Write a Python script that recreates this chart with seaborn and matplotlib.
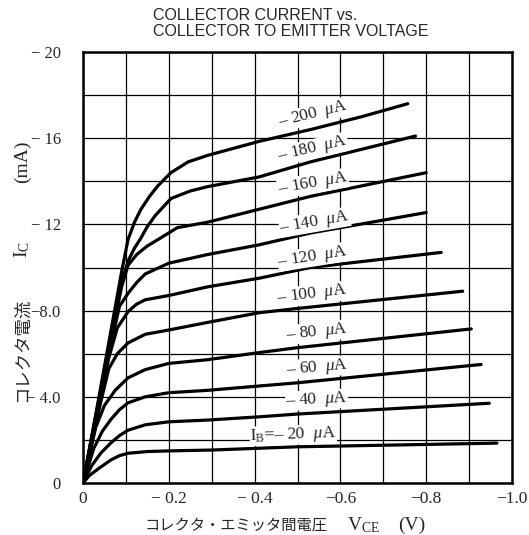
import matplotlib
matplotlib.use("Agg")
import matplotlib.pyplot as plt
import seaborn as sns
import pandas as pd
import numpy as np

# ---- data (V_CE in V, I_C in mA; negative as in the datasheet) ----
ib_labels = ["200", "180", "160", "140", "120", "100", "80", "60", "40", "20"]

v_200 = [0, 0.03, 0.06, 0.09, 0.105, 0.12, 0.135, 0.155, 0.175, 0.205, 0.245, 0.29, 0.41, 0.53, 0.65, 0.757]
i_200 = [0, 3.2, 6.5, 9.8, 11.3, 12.1, 12.7, 13.3, 13.8, 14.4, 14.9, 15.2, 15.85, 16.4, 17.0, 17.6]
v_180 = [0, 0.03, 0.06, 0.09, 0.105, 0.12, 0.133, 0.15, 0.168, 0.205, 0.25, 0.29, 0.41, 0.53, 0.775]
i_180 = [0, 3.1, 6.3, 9.3, 10.3, 10.9, 11.3, 11.9, 12.4, 13.2, 13.55, 13.75, 14.2, 14.9, 16.1]
v_160 = [0, 0.03, 0.06, 0.09, 0.105, 0.125, 0.15, 0.175, 0.22, 0.29, 0.41, 0.53, 0.80]
i_160 = [0, 3.1, 6.2, 9.1, 10.1, 10.6, 11.0, 11.3, 11.85, 12.1, 12.7, 13.3, 14.4]
v_140 = [0, 0.03, 0.06, 0.085, 0.105, 0.125, 0.145, 0.2, 0.29, 0.41, 0.53, 0.80]
i_140 = [0, 3.0, 6.0, 8.2, 8.8, 9.3, 9.7, 10.2, 10.6, 11.05, 11.6, 12.55]
v_120 = [0, 0.03, 0.06, 0.08, 0.105, 0.125, 0.145, 0.2, 0.29, 0.41, 0.53, 0.835]
i_120 = [0, 2.9, 5.8, 7.2, 7.95, 8.3, 8.5, 8.7, 9.1, 9.5, 10.0, 10.7]
v_100 = [0, 0.03, 0.06, 0.08, 0.105, 0.145, 0.2, 0.29, 0.41, 0.5, 0.885]
i_100 = [0, 2.8, 5.3, 6.0, 6.5, 6.9, 7.1, 7.45, 7.9, 8.1, 8.9]
v_80 = [0, 0.03, 0.05, 0.075, 0.105, 0.145, 0.2, 0.29, 0.41, 0.5, 0.905]
i_80 = [0, 2.6, 3.6, 4.3, 4.88, 5.26, 5.55, 5.72, 6.05, 6.28, 7.15]
v_60 = [0, 0.025, 0.045, 0.065, 0.085, 0.105, 0.145, 0.2, 0.29, 0.41, 0.5, 0.928]
i_60 = [0, 1.6, 2.4, 2.95, 3.4, 3.72, 4.0, 4.19, 4.3, 4.5, 4.65, 5.5]
v_40 = [0, 0.02, 0.042, 0.065, 0.085, 0.105, 0.145, 0.2, 0.29, 0.41, 0.5, 0.947]
i_40 = [0, 0.8, 1.4, 1.86, 2.2, 2.45, 2.7, 2.84, 2.92, 3.07, 3.2, 3.7]
v_20 = [0, 0.015, 0.035, 0.065, 0.085, 0.105, 0.15, 0.2, 0.3, 0.5, 0.965]
i_20 = [0, 0.35, 0.65, 1.07, 1.27, 1.38, 1.46, 1.49, 1.53, 1.68, 1.85]

curve_v = [v_200, v_180, v_160, v_140, v_120, v_100, v_80, v_60, v_40, v_20]
curve_i = [i_200, i_180, i_160, i_140, i_120, i_100, i_80, i_60, i_40, i_20]

# label positions (V, I) and rotation
label_v = [0.536, 0.536, 0.536, 0.54, 0.536, 0.534, 0.545, 0.545, 0.545, 0.49]
label_i = [17.1, 15.5, 13.9, 12.1, 10.5, 8.75, 7.0, 5.35, 3.86, 2.23]
label_rot = [14, 13, 10, 10, 9, 7, 6, 5, 3, 2]

x_ticks = [0, -0.2, -0.4, -0.6, -0.8, -1.0]
x_ticklabels = ["0", "\u2212 0.2", "\u2212 0.4", "\u22120.6", "\u22120.8", "\u22121.0"]
y_ticks = [0, -4, -8, -12, -16, -20]
y_ticklabels = ["0", "\u2212 4.0", "\u22128.0", "\u2212 12", "\u2212 16", "\u2212 20"]

rows = []
for lab, vs, is_ in zip(ib_labels, curve_v, curve_i):
    for v, i in zip(vs, is_):
        rows.append({"IB": lab, "VCE": -v, "IC": -i})
df = pd.DataFrame(rows)

sns.set_style("white")
plt.rcParams["mathtext.fontset"] = "custom"
plt.rcParams["mathtext.rm"] = "Liberation Serif"
plt.rcParams["mathtext.it"] = "Liberation Serif:italic"

fig = plt.figure(figsize=(5.29, 5.35), dpi=100)
ax = fig.add_axes([83 / 529, 1 - 483 / 535, 429 / 529, 431 / 535])

sns.lineplot(data=df, x="VCE", y="IC", hue="IB", units="IB", estimator=None,
             palette=["black"] * len(ib_labels), legend=False, sort=False,
             linewidth=2.3, ax=ax, zorder=3)

ax.set_xlim(0, -1.0)
ax.set_ylim(0, -20)
ax.set_xticks(x_ticks)
ax.set_xticklabels(x_ticklabels, family="Liberation Serif", fontsize=12.5)
ax.set_yticks(y_ticks)
ax.set_yticklabels(y_ticklabels, family="Liberation Serif", fontsize=12)
ax.set_xticks(np.arange(0, -1.01, -0.1), minor=True)
ax.set_yticks(np.arange(0, -20.1, -2), minor=True)
ax.grid(True, which="both", color="black", linewidth=0.9)
ax.tick_params(which="both", length=0)
ax.tick_params(axis="x", pad=6)
ax.tick_params(axis="y", pad=16)
ax.set_xlabel("")
ax.set_ylabel("")
for s in ax.spines.values():
    s.set_visible(True)
    s.set_color("black")
    s.set_linewidth(1.8)

# curve labels
for k, lab in enumerate(ib_labels):
    if lab == "20":
        txt = "I$_{\\mathregular{B}}$=\u2013 20  $\\mathit{\\mu}$A"
    else:
        txt = "\u2013 " + lab + "  $\\mathit{\\mu}$A"
    ax.text(-label_v[k], -label_i[k], txt, rotation=label_rot[k], rotation_mode="anchor",
            ha="center", va="center", fontsize=12.5, family="Liberation Serif", zorder=5,
            bbox=dict(facecolor="white", edgecolor="none", pad=0.3))

# title
fig.text(153 / 529, 1 - 15 / 535, "COLLECTOR CURRENT vs.", ha="left", va="center",
         fontsize=11.5, family="Liberation Sans")
fig.text(153 / 529, 1 - 32 / 535, "COLLECTOR TO EMITTER VOLTAGE", ha="left", va="center",
         fontsize=11.5, family="Liberation Sans")

# x label pieces
yx = 1 - 525 / 535
fig.text(145 / 529, yx, "コレクタ・エミッタ間電圧", ha="left", va="center",
         fontsize=11, family=["Noto Sans CJK JP", "DejaVu Sans"])
fig.text(347 / 529, yx, "V$_{\\mathregular{CE}}$", ha="left", va="center",
         fontsize=14, family="Liberation Serif")
fig.text(398 / 529, yx, "(V)", ha="left", va="center", fontsize=14, family="Liberation Serif")

# y label pieces (rotated)
xy = 22 / 529
fig.text(xy, 1 - 402 / 535, "コレクタ電流", rotation=90, ha="center", va="bottom",
         fontsize=12.5, family=["Noto Sans CJK JP", "DejaVu Sans"])
fig.text(xy, 1 - 258 / 535, "I$_{\\mathregular{C}}$", rotation=90, ha="center", va="bottom",
         fontsize=14, family="Liberation Serif")
fig.text(xy, 1 - 183 / 535, "(mA)", rotation=90, ha="center", va="bottom",
         fontsize=14, family="Liberation Serif")

fig.savefig("out.png", dpi=100)
